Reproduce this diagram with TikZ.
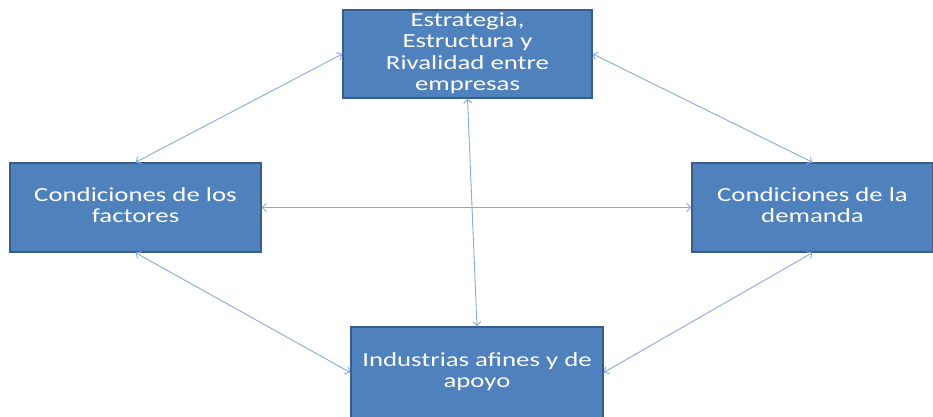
\documentclass[tikz,border=0pt]{standalone}
\usepackage{fontspec}
\setmainfont{Carlito}
\usepackage{graphicx}
\usetikzlibrary{arrows.meta}
\definecolor{boxfill}{HTML}{4F81BD}
\definecolor{boxline}{HTML}{385D8A}
\definecolor{arrowblue}{HTML}{86AADB}
\newcommand{\boxtext}[1]{\scalebox{1.34}[1]{\begin{tabular}{@{}c@{}}#1\end{tabular}}}
\begin{document}
\begin{tikzpicture}[x=1pt,y=-1pt,<->,>={Straight Barb[length=4pt,width=8pt]},
  every node/.style={rectangle,draw=boxline,fill=boxfill,line width=1.4pt,text=white,inner sep=0pt,font=\fontsize{20}{21.5}\selectfont},
  link/.style={draw=arrowblue,line width=0.9pt}]
\useasboundingbox (0,0) rectangle (933,417);
\node[minimum width=249pt,minimum height=88pt] at (467.5,54) (estrategia) {\boxtext{Estrategia,\\ Estructura y\\ Rivalidad entre\\ empresas}};
        \node[minimum width=251pt,minimum height=89pt] at (135.5,207.5) (factores) {\boxtext{Condiciones de los\\ factores}};
        \node[minimum width=241pt,minimum height=89pt] at (812.5,207.5) (demanda) {\boxtext{Condiciones de la\\ demanda}};
        \node[minimum width=252pt,minimum height=91pt] at (477,372.5) (industrias) {\boxtext{Industrias afines y de\\ apoyo}};
        \path
            (estrategia.west) edge[link] (factores.north)
            (estrategia.east) edge[link] (demanda.north)
            (estrategia.south) edge[link] (industrias.north)
            (factores.east) edge[link] (demanda.west)
            (factores.south) edge[link] (industrias.west)
            (demanda.south) edge[link] (industrias.east);
\end{tikzpicture}
\end{document}
